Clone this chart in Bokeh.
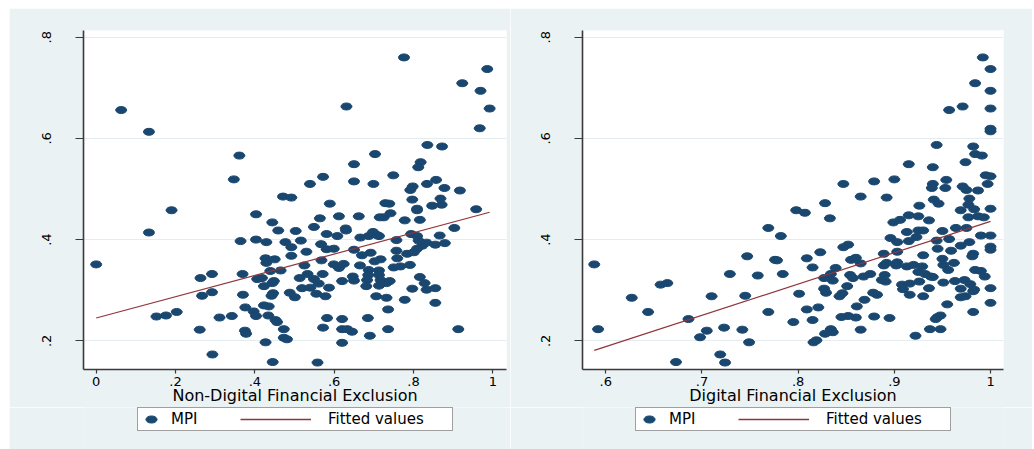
from bokeh.plotting import figure
from bokeh.layouts import row, column
from bokeh.models import Legend, LegendItem, Spacer
from bokeh.embed import file_html
from bokeh.resources import INLINE

# MPI against non-digital financial exclusion
nondigital_x = [0.776, 0.986, 0.923, 0.969, 0.992, 0.063, 0.631, 0.133, 0.967, 0.835,
                0.872, 0.361, 0.703, 0.650, 0.818, 0.812, 0.347, 0.572, 0.749, 0.539,
                0.650, 0.699, 0.857, 0.834, 0.798, 0.792, 0.878, 0.917, 0.471, 0.492,
                0.589, 0.729, 0.739, 0.797, 0.868, 0.871, 0.847, 0.809, 0.809, 0.958,
                0.190, 0.403, 0.564, 0.612, 0.662, 0.715, 0.725, 0.742, 0.778, 0.816,
                0.444, 0.459, 0.503, 0.549, 0.629, 0.630, 0.133, 0.581, 0.608, 0.666,
                0.687, 0.698, 0.708, 0.713, 0.794, 0.809, 0.866, 0.903, 0.364, 0.403,
                0.429, 0.477, 0.492, 0.516, 0.567, 0.757, 0.813, 0.822, 0.833, 0.855,
                0.879, 0.000, 0.530, 0.581, 0.599, 0.650, 0.692, 0.757, 0.784, 0.801,
                0.809, 0.427, 0.450, 0.492, 0.568, 0.670, 0.717, 0.759, 0.429, 0.525,
                0.599, 0.624, 0.665, 0.702, 0.750, 0.767, 0.791, 0.439, 0.465, 0.612,
                0.687, 0.713, 0.263, 0.292, 0.369, 0.406, 0.418, 0.448, 0.513, 0.533,
                0.549, 0.571, 0.647, 0.686, 0.713, 0.717, 0.816, 0.620, 0.650, 0.683,
                0.732, 0.740, 0.828, 0.423, 0.444, 0.561, 0.713, 0.519, 0.540, 0.587,
                0.681, 0.797, 0.833, 0.855, 0.267, 0.292, 0.370, 0.446, 0.488, 0.501,
                0.555, 0.578, 0.442, 0.706, 0.732, 0.778, 0.855, 0.376, 0.423, 0.435,
                0.397, 0.736, 0.152, 0.176, 0.203, 0.311, 0.342, 0.403, 0.434, 0.452,
                0.456, 0.582, 0.620, 0.685, 0.261, 0.375, 0.378, 0.473, 0.572, 0.620,
                0.633, 0.645, 0.736, 0.913, 0.473, 0.481, 0.690, 0.427, 0.620, 0.293,
                0.445, 0.558]
nondigital_mpi = [0.760, 0.737, 0.709, 0.694, 0.659, 0.656, 0.663, 0.613, 0.620, 0.587,
                  0.584, 0.566, 0.569, 0.549, 0.553, 0.543, 0.519, 0.524, 0.527, 0.510,
                  0.515, 0.510, 0.518, 0.510, 0.505, 0.498, 0.502, 0.497, 0.485, 0.483,
                  0.471, 0.472, 0.471, 0.479, 0.481, 0.469, 0.467, 0.461, 0.458, 0.460,
                  0.458, 0.450, 0.442, 0.446, 0.446, 0.444, 0.444, 0.452, 0.438, 0.439,
                  0.434, 0.418, 0.417, 0.425, 0.422, 0.418, 0.414, 0.411, 0.407, 0.404,
                  0.407, 0.415, 0.409, 0.407, 0.411, 0.407, 0.408, 0.423, 0.397, 0.400,
                  0.395, 0.395, 0.385, 0.398, 0.391, 0.399, 0.398, 0.388, 0.394, 0.390,
                  0.393, 0.351, 0.376, 0.381, 0.382, 0.380, 0.374, 0.378, 0.372, 0.375,
                  0.382, 0.363, 0.361, 0.368, 0.359, 0.369, 0.361, 0.363, 0.354, 0.349,
                  0.351, 0.352, 0.349, 0.357, 0.345, 0.347, 0.350, 0.338, 0.339, 0.344,
                  0.340, 0.339, 0.324, 0.332, 0.332, 0.322, 0.324, 0.318, 0.324, 0.332,
                  0.322, 0.332, 0.327, 0.330, 0.330, 0.320, 0.326, 0.318, 0.319, 0.320,
                  0.314, 0.318, 0.314, 0.308, 0.314, 0.313, 0.309, 0.304, 0.305, 0.305,
                  0.308, 0.303, 0.301, 0.304, 0.289, 0.296, 0.291, 0.294, 0.295, 0.286,
                  0.293, 0.288, 0.289, 0.288, 0.285, 0.281, 0.275, 0.266, 0.270, 0.268,
                  0.258, 0.262, 0.248, 0.250, 0.257, 0.246, 0.249, 0.249, 0.250, 0.241,
                  0.237, 0.245, 0.243, 0.245, 0.222, 0.220, 0.214, 0.223, 0.226, 0.223,
                  0.223, 0.218, 0.223, 0.223, 0.206, 0.203, 0.210, 0.197, 0.196, 0.173,
                  0.158, 0.157]

# MPI against digital financial exclusion
digital_x = [0.992, 1.000, 0.984, 1.000, 1.000, 0.957, 0.971, 1.000, 1.000, 0.944,
             0.982, 0.984, 0.991, 0.915, 0.974, 0.940, 1.000, 0.995, 0.900, 0.954,
             0.847, 0.879, 0.940, 0.939, 0.953, 0.971, 0.975, 0.987, 0.997, 0.865,
             0.892, 0.941, 0.946, 0.978, 0.977, 0.828, 0.926, 0.798, 0.807, 0.833,
             0.969, 0.983, 1.000, 0.906, 0.899, 0.915, 0.925, 0.936, 0.977, 0.987,
             0.993, 0.769, 0.782, 0.913, 0.925, 0.930, 0.950, 0.964, 0.975, 0.990,
             1.000, 0.896, 0.903, 0.915, 0.923, 0.944, 0.957, 0.969, 0.978, 1.000,
             1.000, 0.847, 0.852, 0.823, 0.889, 0.903, 0.930, 0.945, 0.959, 0.982,
             0.981, 0.588, 0.747, 0.776, 0.778, 0.809, 0.855, 0.860, 0.865, 0.892,
             0.903, 0.950, 0.962, 0.815, 0.839, 0.902, 0.913, 0.920, 0.929, 0.951,
             0.956, 0.984, 0.990, 0.729, 0.758, 0.784, 0.834, 0.854, 0.875, 0.890,
             0.925, 0.932, 0.994, 0.827, 0.836, 0.857, 0.868, 0.887, 0.891, 0.926,
             0.938, 0.940, 0.951, 0.963, 0.973, 0.908, 0.916, 0.979, 0.851, 0.827,
             0.909, 0.936, 0.969, 0.983, 1.000, 0.657, 0.664, 0.829, 0.801, 0.878,
             0.882, 0.916, 0.846, 0.982, 0.710, 0.745, 0.627, 0.843, 0.930, 0.969,
             0.974, 0.869, 0.861, 0.955, 1.000, 0.644, 0.769, 0.809, 0.821, 0.982,
             0.686, 0.845, 0.852, 0.860, 0.879, 0.895, 0.945, 0.948, 0.943, 0.795,
             0.815, 0.592, 0.705, 0.723, 0.742, 0.834, 0.828, 0.836, 0.865, 0.937,
             0.948, 0.698, 0.749, 0.816, 0.819, 0.922, 0.719, 0.673, 0.724, 0.889]
digital_mpi = [0.760, 0.737, 0.709, 0.694, 0.659, 0.656, 0.663, 0.619, 0.614, 0.587,
               0.584, 0.569, 0.566, 0.549, 0.553, 0.543, 0.525, 0.527, 0.519, 0.518,
               0.510, 0.515, 0.510, 0.502, 0.502, 0.505, 0.498, 0.497, 0.510, 0.485,
               0.483, 0.479, 0.471, 0.481, 0.469, 0.472, 0.467, 0.458, 0.453, 0.442,
               0.458, 0.460, 0.461, 0.439, 0.434, 0.448, 0.446, 0.438, 0.444, 0.446,
               0.444, 0.423, 0.407, 0.415, 0.418, 0.418, 0.417, 0.423, 0.423, 0.408,
               0.408, 0.403, 0.395, 0.397, 0.405, 0.398, 0.401, 0.388, 0.395, 0.386,
               0.380, 0.385, 0.390, 0.375, 0.372, 0.376, 0.369, 0.382, 0.378, 0.372,
               0.367, 0.351, 0.367, 0.360, 0.359, 0.363, 0.360, 0.364, 0.353, 0.354,
               0.355, 0.362, 0.354, 0.345, 0.344, 0.349, 0.347, 0.350, 0.347, 0.350,
               0.340, 0.340, 0.338, 0.332, 0.329, 0.332, 0.332, 0.330, 0.332, 0.330,
               0.336, 0.332, 0.327, 0.324, 0.319, 0.324, 0.327, 0.320, 0.317, 0.317,
               0.327, 0.326, 0.315, 0.318, 0.320, 0.311, 0.313, 0.312, 0.308, 0.303,
               0.302, 0.304, 0.303, 0.301, 0.304, 0.311, 0.314, 0.295, 0.293, 0.295,
               0.291, 0.291, 0.294, 0.298, 0.288, 0.289, 0.285, 0.288, 0.288, 0.286,
               0.288, 0.281, 0.268, 0.272, 0.275, 0.257, 0.257, 0.262, 0.266, 0.257,
               0.243, 0.247, 0.249, 0.246, 0.248, 0.245, 0.247, 0.250, 0.243, 0.237,
               0.241, 0.223, 0.220, 0.226, 0.222, 0.223, 0.214, 0.217, 0.222, 0.223,
               0.223, 0.207, 0.197, 0.197, 0.201, 0.210, 0.173, 0.158, 0.157, 0.349]

# Linear fits (end points of each fitted line)
fit_nondigital_x = [0.0, 0.992]
fit_nondigital_y = [0.245, 0.454]
fit_digital_x = [0.588, 1.0]
fit_digital_y = [0.181, 0.436]

# Axis ticks and labels
y_ticks = [0.2, 0.4, 0.6, 0.8]
y_tick_labels = [".2", ".4", ".6", ".8"]
nondigital_ticks = [0.0, 0.2, 0.4, 0.6, 0.8, 1.0]
nondigital_tick_labels = ["0", ".2", ".4", ".6", ".8", "1"]
digital_ticks = [0.6, 0.7, 0.8, 0.9, 1.0]
digital_tick_labels = [".6", ".7", ".8", ".9", "1"]

BG = "#EAF2F3"
GRID = "#E3ECEE"
NAVY = "#1A476F"
MAROON = "#90353B"
AXIS = "#3A3A3A"
FONT = "DejaVu Sans"

MAIN_H = 22 + 339 + 36      # top border + frame + x-axis block
LEGEND_H = 440 - MAIN_H


def panel(xs, ys, fx, fy, x_range, xticks, xlabels, xtitle,
          frame_w, border_l, border_r, legend_x):
    p = figure(frame_width=frame_w, frame_height=339,
               x_range=x_range, y_range=(0.1433, 0.8132),
               min_border_left=border_l, min_border_right=border_r,
               min_border_top=22, min_border_bottom=0,
               output_backend="svg", toolbar_location=None,
               background_fill_color="white", border_fill_color=BG,
               outline_line_color=None)

    p.xgrid.visible = False
    p.ygrid.grid_line_color = GRID
    p.ygrid.grid_line_width = 1

    p.xaxis.ticker = xticks
    p.xaxis.major_label_overrides = {t: s for t, s in zip(xticks, xlabels)}
    p.yaxis.ticker = y_ticks
    p.yaxis.major_label_overrides = {t: s for t, s in zip(y_ticks, y_tick_labels)}
    p.yaxis.major_label_orientation = "vertical"

    for ax in (p.xaxis, p.yaxis):
        ax.axis_line_color = AXIS
        ax.axis_line_width = 1.6
        ax.major_tick_line_color = AXIS
        ax.major_tick_line_width = 1.2
        ax.major_tick_in = 0
        ax.minor_tick_line_color = None
        ax.major_label_text_font = FONT
        ax.major_label_text_font_size = "13px"
        ax.major_label_text_color = "black"

    p.xaxis.major_tick_out = 4
    p.xaxis.major_label_standoff = 3
    p.yaxis.major_tick_out = 8
    p.yaxis.major_label_standoff = 24

    p.xaxis.axis_label = xtitle
    p.xaxis.axis_label_text_font = FONT
    p.xaxis.axis_label_text_font_size = "16px"
    p.xaxis.axis_label_text_font_style = "normal"
    p.xaxis.axis_label_text_color = "black"
    p.xaxis.axis_label_standoff = -3

    p.ellipse(x=xs, y=ys, width=11, height=7,
              width_units="screen", height_units="screen",
              fill_color=NAVY, line_color=NAVY)
    p.line(fx, fy, line_color=MAROON, line_width=1.2)

    # legend strip under the axis title (its frame lines up with the plot frame)
    lg = figure(width=frame_w + border_l + border_r, height=LEGEND_H,
                x_range=(0, 1), y_range=(0, 1), x_axis_type=None, y_axis_type=None,
                min_border=0, output_backend="svg", toolbar_location=None,
                background_fill_color=BG, border_fill_color=BG,
                outline_line_color=None)
    lg.grid.visible = False
    key_pts = lg.ellipse(x=[-5], y=[-5], width=11, height=7,
                         width_units="screen", height_units="screen",
                         fill_color=NAVY, line_color=NAVY)
    key_fit = lg.line([-5, -4], [-5, -5], line_color=MAROON, line_width=1.3)

    common = dict(orientation="horizontal", padding=2, margin=0,
                  label_text_font=FONT, label_text_font_size="15px",
                  label_text_color="black", glyph_height=14, label_height=14)
    box = Legend(items=[LegendItem(label="MPI", renderers=[key_pts])],
                 location=(legend_x, 19), glyph_width=22, label_standoff=9,
                 label_width=279, border_line_color="#404040",
                 border_line_width=1.5, background_fill_color="white",
                 background_fill_alpha=1.0, **common)
    line_item = Legend(items=[LegendItem(label="Fitted values", renderers=[key_fit])],
                       location=(legend_x + 103, 22), glyph_width=71,
                       label_standoff=17, border_line_color=None,
                       background_fill_alpha=0.0, **common)
    lg.add_layout(box)
    lg.add_layout(line_item)
    return column(p, lg, spacing=0)


left = panel(nondigital_x, nondigital_mpi, fit_nondigital_x, fit_nondigital_y,
             (-0.032, 1.0345), nondigital_ticks, nondigital_tick_labels,
             "Non-Digital Financial Exclusion", 423, 74, 4, 54)
right = panel(digital_x, digital_mpi, fit_digital_x, fit_digital_y,
              (0.5758, 1.0135), digital_ticks, digital_tick_labels,
              "Digital Financial Exclusion", 421, 72, 29, 53)

page = column(Spacer(height=8),
              row(Spacer(width=9), left, right))

open("out.html", "w").write(file_html(page, INLINE))
